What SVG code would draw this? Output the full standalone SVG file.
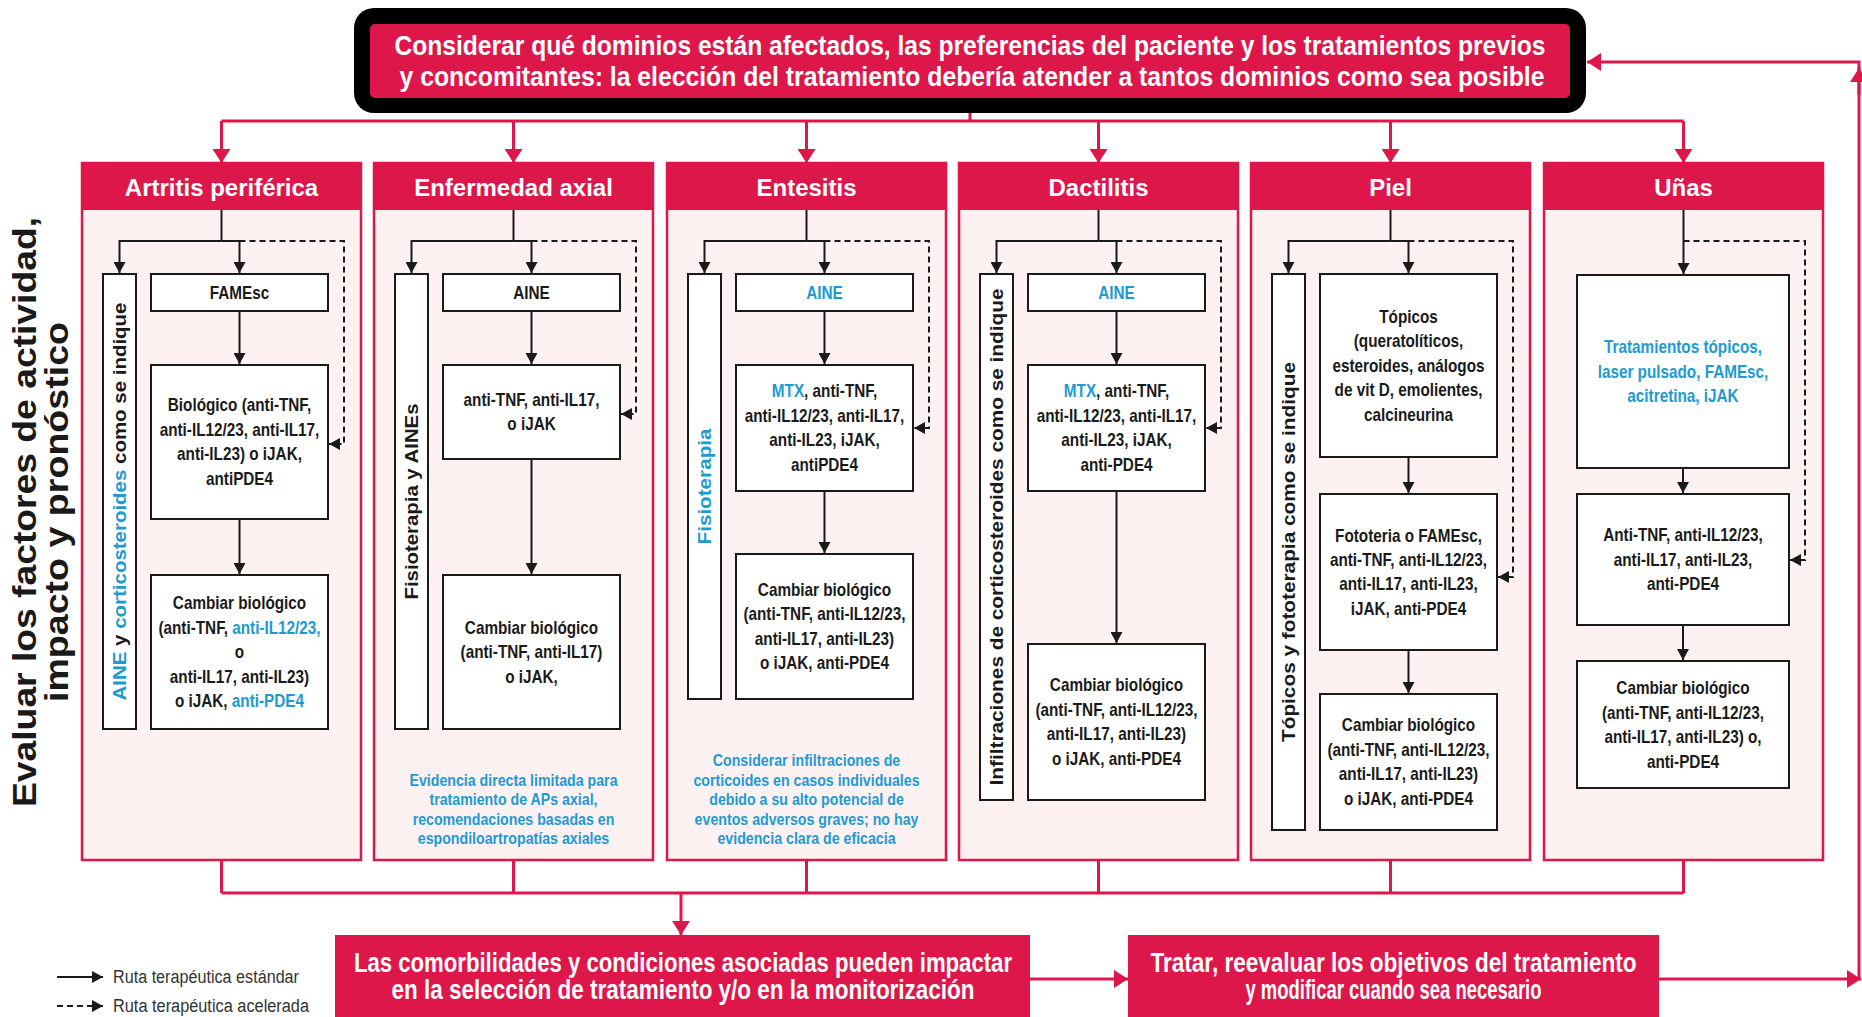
<svg xmlns="http://www.w3.org/2000/svg" width="1862" height="1017" viewBox="0 0 1862 1017">
  <style>
    .pnl { fill: #fdf1f1; stroke: #de174b; stroke-width: 2.5; }
    .hdr { fill: #de174b; }
    .ht { font-family: "Liberation Sans", Arial, sans-serif; font-weight: bold; font-size: 24px; fill: #ffffff; text-anchor: middle; }
    .box { fill: #ffffff; stroke: #1a1a1a; stroke-width: 2; }
    .bt { font-family: "Liberation Sans", Arial, sans-serif; font-weight: bold; font-size: 18px; fill: #1a1a1a; text-anchor: middle; }
    .vt { font-family: "Liberation Sans", Arial, sans-serif; font-weight: bold; font-size: 17.5px; fill: #1a1a1a; text-anchor: middle; }
    .note { font-family: "Liberation Sans", Arial, sans-serif; font-weight: bold; font-size: 16.5px; fill: #1d9bd1; text-anchor: middle; }
    .b { fill: #1d9bd1; }
    .fl { fill: none; stroke: #1a1a1a; stroke-width: 2; }
    .fla { fill: none; stroke: #1a1a1a; stroke-width: 2; marker-end: url(#ah); }
    .dl { fill: none; stroke: #1a1a1a; stroke-width: 2; stroke-dasharray: 6 4; marker-end: url(#ah); }
    .pk { fill: none; stroke: #de174b; stroke-width: 3; }
    .pka { fill: none; stroke: #de174b; stroke-width: 3; marker-end: url(#ahp); }
    .big { font-family: "Liberation Sans Narrow", "Liberation Sans", Arial, sans-serif; font-weight: bold; font-size: 27px; fill: #ffffff; text-anchor: middle; }
    .side { font-family: "Liberation Sans", Arial, sans-serif; font-weight: bold; font-size: 33px; fill: #1a1a1a; text-anchor: middle; }
    .leg { font-family: "Liberation Sans Narrow", "Liberation Sans", Arial, sans-serif; font-size: 18px; fill: #333333; }
  </style>
  <defs>
    <marker id="ah" markerUnits="userSpaceOnUse" markerWidth="11" markerHeight="12" viewBox="0 0 11 12" refX="11" refY="6" orient="auto">
      <path d="M0,0 L11,6 L0,12 z" fill="#1a1a1a"/>
    </marker>
    <marker id="ahp" markerUnits="userSpaceOnUse" markerWidth="14" markerHeight="18" viewBox="0 0 14 18" refX="14" refY="9" orient="auto">
      <path d="M0,0 L14,9 L0,18 z" fill="#de174b"/>
    </marker>
  </defs>

  <!-- side title -->
  <g id="side-title">
    <text class="side" transform="translate(36 512) rotate(-90)" textLength="590" lengthAdjust="spacingAndGlyphs">Evaluar los factores de actividad,</text>
    <text class="side" transform="translate(68 512) rotate(-90)" textLength="380" lengthAdjust="spacingAndGlyphs">impacto y pronóstico</text>
  </g>

  <!-- top banner -->
  <g id="top">
    <rect x="354" y="8" width="1232" height="105" rx="20" fill="#000000"/>
    <rect x="370" y="24" width="1200" height="74" rx="5" fill="#de174b"/>
    <text class="big" x="970" y="54.5" textLength="1151" lengthAdjust="spacingAndGlyphs">Considerar qué dominios están afectados, las preferencias del paciente y los tratamientos previos</text>
    <text class="big" x="972" y="85.5" textLength="1145" lengthAdjust="spacingAndGlyphs">y concomitantes: la elección del tratamiento debería atender a tantos dominios como sea posible</text>
  </g>

  <!-- connectors -->
  <g id="connectors">
    <path class="pk" d="M970,113 V121 M221.5,121 H1683.5"/>
    <path class="pka" d="M221.5,121 V163"/>
    <path class="pka" d="M513.5,121 V163"/>
    <path class="pka" d="M806.5,121 V163"/>
    <path class="pka" d="M1098.5,121 V163"/>
    <path class="pka" d="M1390.5,121 V163"/>
    <path class="pka" d="M1683.5,121 V163"/>
    <path class="pk" d="M221.5,860 V893 M513.5,860 V893 M806.5,860 V893 M1098.5,860 V893 M1390.5,860 V893 M1683.5,860 V893 M221.5,893 H1683.5"/>
    <path class="pka" d="M681,893 V935"/>
    <path class="pka" d="M1030,979 H1128"/>
    <path class="pka" d="M1659,979 H1861"/>
    <path class="pka" d="M1859,979 V62 H1587"/>
    <path class="pka" d="M1859,95 V68"/>
  </g>

  <!-- Artritis periférica -->
  <g id="artritis">
    <rect class="pnl" x="82" y="163" width="279" height="697"/>
    <rect class="hdr" x="82" y="163" width="279" height="47"/>
    <text class="ht" x="221.5" y="195.5">Artritis periférica</text>
    <rect class="box" x="103" y="274" width="33" height="455"/>
    <text class="vt" transform="translate(119.5 501.5) rotate(-90)" y="6.1" textLength="398" lengthAdjust="spacingAndGlyphs"><tspan class="b">AINE</tspan> y <tspan class="b">corticosteroides</tspan> como se indique</text>
    <rect class="box" x="151" y="274" width="177" height="37"/>
    <text class="bt" transform="translate(239.5 0) scale(0.85 1)"><tspan x="0" y="298.8">FAMEsc</tspan></text>
    <rect class="box" x="151" y="365" width="177" height="154"/>
    <text class="bt" transform="translate(239.5 0) scale(0.85 1)"><tspan x="0" y="411.5">Biológico (anti-TNF,</tspan><tspan x="0" y="436">anti-IL12/23, anti-IL17,</tspan><tspan x="0" y="460.5">anti-IL23) o iJAK,</tspan><tspan x="0" y="485">antiPDE4</tspan></text>
    <rect class="box" x="151" y="575" width="177" height="154"/>
    <text class="bt" transform="translate(239.5 0) scale(0.85 1)"><tspan x="0" y="609.3">Cambiar biológico</tspan><tspan x="0" y="633.8">(anti-TNF, <tspan class="b">anti-IL12/23,</tspan></tspan><tspan x="0" y="658.3">o</tspan><tspan x="0" y="682.8">anti-IL17, anti-IL23)</tspan><tspan x="0" y="707.3">o iJAK, <tspan class="b">anti-PDE4</tspan></tspan></text>
    <path class="fl" d="M221.5,210 V241"/>
    <path class="fla" d="M221.5,241 H119.5 V273"/>
    <path class="fla" d="M221.5,241 H239.5 V273"/>
    <path class="fla" d="M239.5,311 V364"/>
    <path class="fla" d="M239.5,519 V574"/>
    <path class="dl" d="M239.5,241 H344 V444 H329"/>
  </g>

  <!-- Enfermedad axial -->
  <g id="axial">
    <rect class="pnl" x="374" y="163" width="279" height="697"/>
    <rect class="hdr" x="374" y="163" width="279" height="47"/>
    <text class="ht" x="513.5" y="195.5">Enfermedad axial</text>
    <rect class="box" x="395" y="274" width="33" height="455"/>
    <text class="vt" transform="translate(411.5 501.5) rotate(-90)" y="6.1" textLength="196" lengthAdjust="spacingAndGlyphs">Fisioterapia y AINEs</text>
    <rect class="box" x="443" y="274" width="177" height="37"/>
    <text class="bt" transform="translate(531.5 0) scale(0.85 1)"><tspan x="0" y="298.8">AINE</tspan></text>
    <rect class="box" x="443" y="365" width="177" height="94"/>
    <text class="bt" transform="translate(531.5 0) scale(0.85 1)"><tspan x="0" y="406">anti-TNF, anti-IL17,</tspan><tspan x="0" y="430.5">o iJAK</tspan></text>
    <rect class="box" x="443" y="575" width="177" height="154"/>
    <text class="bt" transform="translate(531.5 0) scale(0.85 1)"><tspan x="0" y="633.8">Cambiar biológico</tspan><tspan x="0" y="658.3">(anti-TNF, anti-IL17)</tspan><tspan x="0" y="682.8">o iJAK,</tspan></text>
    <text class="note" transform="translate(513.5 0) scale(0.86 1)"><tspan x="0" y="785.8">Evidencia directa limitada para</tspan><tspan x="0" y="805.3">tratamiento de APs axial,</tspan><tspan x="0" y="824.8">recomendaciones basadas en</tspan><tspan x="0" y="844.3">espondiloartropatías axiales</tspan></text>
    <path class="fl" d="M513.5,210 V241"/>
    <path class="fla" d="M513.5,241 H411.5 V273"/>
    <path class="fla" d="M513.5,241 H531.5 V273"/>
    <path class="fla" d="M531.5,311 V364"/>
    <path class="fla" d="M531.5,459 V574"/>
    <path class="dl" d="M531.5,241 H636 V414 H621"/>
  </g>

  <!-- Entesitis -->
  <g id="entesitis">
    <rect class="pnl" x="667" y="163" width="279" height="697"/>
    <rect class="hdr" x="667" y="163" width="279" height="47"/>
    <text class="ht" x="806.5" y="195.5">Entesitis</text>
    <rect class="box" x="688" y="274" width="33" height="425"/>
    <text class="vt b" transform="translate(704.5 486.5) rotate(-90)" y="6.1" textLength="116" lengthAdjust="spacingAndGlyphs">Fisioterapia</text>
    <rect class="box" x="736" y="274" width="177" height="37"/>
    <text class="bt b" transform="translate(824.5 0) scale(0.85 1)"><tspan x="0" y="298.8">AINE</tspan></text>
    <rect class="box" x="736" y="365" width="177" height="126"/>
    <text class="bt" transform="translate(824.5 0) scale(0.85 1)"><tspan x="0" y="397.5"><tspan class="b">MTX</tspan>, anti-TNF,</tspan><tspan x="0" y="422">anti-IL12/23, anti-IL17,</tspan><tspan x="0" y="446.5">anti-IL23, iJAK,</tspan><tspan x="0" y="471">antiPDE4</tspan></text>
    <rect class="box" x="736" y="554" width="177" height="145"/>
    <text class="bt" transform="translate(824.5 0) scale(0.85 1)"><tspan x="0" y="596">Cambiar biológico</tspan><tspan x="0" y="620.5">(anti-TNF, anti-IL12/23,</tspan><tspan x="0" y="645">anti-IL17, anti-IL23)</tspan><tspan x="0" y="669.5">o iJAK, anti-PDE4</tspan></text>
    <text class="note" transform="translate(806.5 0) scale(0.86 1)"><tspan x="0" y="766.3">Considerar infiltraciones de</tspan><tspan x="0" y="785.8">corticoides en casos individuales</tspan><tspan x="0" y="805.3">debido a su alto potencial de</tspan><tspan x="0" y="824.8">eventos adversos graves; no hay</tspan><tspan x="0" y="844.3">evidencia clara de eficacia</tspan></text>
    <path class="fl" d="M806.5,210 V241"/>
    <path class="fla" d="M806.5,241 H704.5 V273"/>
    <path class="fla" d="M806.5,241 H824.5 V273"/>
    <path class="fla" d="M824.5,311 V364"/>
    <path class="fla" d="M824.5,491 V553"/>
    <path class="dl" d="M824.5,241 H929 V428 H914"/>
  </g>

  <!-- Dactilitis -->
  <g id="dactilitis">
    <rect class="pnl" x="959" y="163" width="279" height="697"/>
    <rect class="hdr" x="959" y="163" width="279" height="47"/>
    <text class="ht" x="1098.5" y="195.5">Dactilitis</text>
    <rect class="box" x="980" y="274" width="33" height="526"/>
    <text class="vt" transform="translate(996.5 537) rotate(-90)" y="6.1" textLength="497" lengthAdjust="spacingAndGlyphs">Infiltraciones de corticosteroides como se indique</text>
    <rect class="box" x="1028" y="274" width="177" height="37"/>
    <text class="bt b" transform="translate(1116.5 0) scale(0.85 1)"><tspan x="0" y="298.8">AINE</tspan></text>
    <rect class="box" x="1028" y="365" width="177" height="126"/>
    <text class="bt" transform="translate(1116.5 0) scale(0.85 1)"><tspan x="0" y="397.5"><tspan class="b">MTX</tspan>, anti-TNF,</tspan><tspan x="0" y="422">anti-IL12/23, anti-IL17,</tspan><tspan x="0" y="446.5">anti-IL23, iJAK,</tspan><tspan x="0" y="471">anti-PDE4</tspan></text>
    <rect class="box" x="1028" y="644" width="177" height="156"/>
    <text class="bt" transform="translate(1116.5 0) scale(0.85 1)"><tspan x="0" y="691.5">Cambiar biológico</tspan><tspan x="0" y="716">(anti-TNF, anti-IL12/23,</tspan><tspan x="0" y="740.5">anti-IL17, anti-IL23)</tspan><tspan x="0" y="765">o iJAK, anti-PDE4</tspan></text>
    <path class="fl" d="M1098.5,210 V241"/>
    <path class="fla" d="M1098.5,241 H996.5 V273"/>
    <path class="fla" d="M1098.5,241 H1116.5 V273"/>
    <path class="fla" d="M1116.5,311 V364"/>
    <path class="fla" d="M1116.5,491 V643"/>
    <path class="dl" d="M1116.5,241 H1221 V428 H1206"/>
  </g>

  <!-- Piel -->
  <g id="piel">
    <rect class="pnl" x="1251" y="163" width="279" height="697"/>
    <rect class="hdr" x="1251" y="163" width="279" height="47"/>
    <text class="ht" x="1390.5" y="195.5">Piel</text>
    <rect class="box" x="1272" y="274" width="33" height="556"/>
    <text class="vt" transform="translate(1288.5 552) rotate(-90)" y="6.1" textLength="380" lengthAdjust="spacingAndGlyphs">Tópicos y fototerapia como se indique</text>
    <rect class="box" x="1320" y="274" width="177" height="183"/>
    <text class="bt" transform="translate(1408.5 0) scale(0.85 1)"><tspan x="0" y="322.8">Tópicos</tspan><tspan x="0" y="347.3">(queratolíticos,</tspan><tspan x="0" y="371.8">esteroides, análogos</tspan><tspan x="0" y="396.3">de vit D, emolientes,</tspan><tspan x="0" y="420.8">calcineurina</tspan></text>
    <rect class="box" x="1320" y="494" width="177" height="156"/>
    <text class="bt" transform="translate(1408.5 0) scale(0.85 1)"><tspan x="0" y="541.5">Fototeria o FAMEsc,</tspan><tspan x="0" y="566">anti-TNF, anti-IL12/23,</tspan><tspan x="0" y="590.5">anti-IL17, anti-IL23,</tspan><tspan x="0" y="615">iJAK, anti-PDE4</tspan></text>
    <rect class="box" x="1320" y="694" width="177" height="136"/>
    <text class="bt" transform="translate(1408.5 0) scale(0.85 1)"><tspan x="0" y="731.5">Cambiar biológico</tspan><tspan x="0" y="756">(anti-TNF, anti-IL12/23,</tspan><tspan x="0" y="780.5">anti-IL17, anti-IL23)</tspan><tspan x="0" y="805">o iJAK, anti-PDE4</tspan></text>
    <path class="fl" d="M1390.5,210 V241"/>
    <path class="fla" d="M1390.5,241 H1288.5 V273"/>
    <path class="fla" d="M1390.5,241 H1408.5 V273"/>
    <path class="fla" d="M1408.5,457 V493"/>
    <path class="fla" d="M1408.5,650 V693"/>
    <path class="dl" d="M1408.5,241 H1513 V577 H1498"/>
  </g>

  <!-- Uñas -->
  <g id="unas">
    <rect class="pnl" x="1544" y="163" width="279" height="697"/>
    <rect class="hdr" x="1544" y="163" width="279" height="47"/>
    <text class="ht" x="1683.5" y="195.5">Uñas</text>
    <rect class="box" x="1577" y="275" width="212" height="193"/>
    <text class="bt b" transform="translate(1683 0) scale(0.85 1)"><tspan x="0" y="353.3">Tratamientos tópicos,</tspan><tspan x="0" y="377.8">laser pulsado, FAMEsc,</tspan><tspan x="0" y="402.3">acitretina, iJAK</tspan></text>
    <rect class="box" x="1577" y="494" width="212" height="131"/>
    <text class="bt" transform="translate(1683 0) scale(0.85 1)"><tspan x="0" y="541.3">Anti-TNF, anti-IL12/23,</tspan><tspan x="0" y="565.8">anti-IL17, anti-IL23,</tspan><tspan x="0" y="590.3">anti-PDE4</tspan></text>
    <rect class="box" x="1577" y="661" width="212" height="127"/>
    <text class="bt" transform="translate(1683 0) scale(0.85 1)"><tspan x="0" y="694.3">Cambiar biológico</tspan><tspan x="0" y="718.8">(anti-TNF, anti-IL12/23,</tspan><tspan x="0" y="743.3">anti-IL17, anti-IL23) o,</tspan><tspan x="0" y="767.8">anti-PDE4</tspan></text>
    <path class="fla" d="M1683.5,210 V274"/>
    <path class="fla" d="M1683,468 V493"/>
    <path class="fla" d="M1683,625 V660"/>
    <path class="dl" d="M1683.5,241 H1805 V560 H1790"/>
  </g>

  <!-- comorbidities -->
  <g id="comorbilidades">
    <rect x="335" y="935" width="695" height="82" fill="#de174b"/>
    <text class="big" x="683" y="972" textLength="658" lengthAdjust="spacingAndGlyphs">Las comorbilidades y condiciones asociadas pueden impactar</text>
    <text class="big" x="683" y="999" textLength="583" lengthAdjust="spacingAndGlyphs">en la selección de tratamiento y/o en la monitorización</text>
  </g>

  <!-- treat and reassess -->
  <g id="tratar">
    <rect x="1128" y="935" width="531" height="82" fill="#de174b"/>
    <text class="big" x="1393.5" y="972" textLength="486" lengthAdjust="spacingAndGlyphs">Tratar, reevaluar los objetivos del tratamiento</text>
    <text class="big" x="1393.5" y="999" textLength="296" lengthAdjust="spacingAndGlyphs">y modificar cuando sea necesario</text>
  </g>

  <!-- legend -->
  <g id="legend">
    <path class="fla" d="M57,977 H103"/>
    <path class="dl" d="M57,1006 H103"/>
    <text class="leg" x="113" y="983" textLength="186" lengthAdjust="spacingAndGlyphs">Ruta terapéutica estándar</text>
    <text class="leg" x="113" y="1012" textLength="196" lengthAdjust="spacingAndGlyphs">Ruta terapéutica acelerada</text>
  </g>
</svg>
